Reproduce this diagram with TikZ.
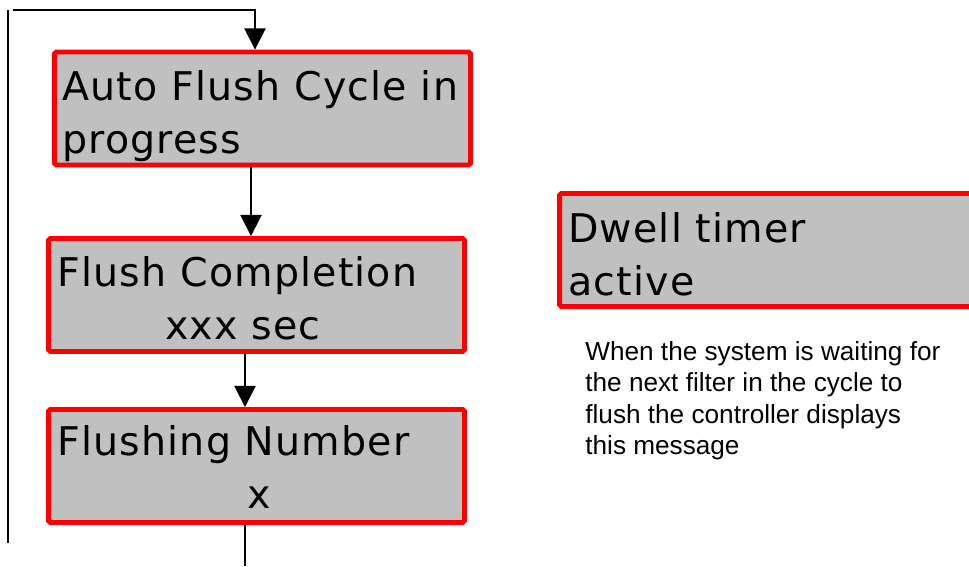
\documentclass[tikz,border=0pt]{standalone}
\usepackage{fontspec}
\setmainfont{DejaVu Sans}
\newfontfamily\boxfont[LetterSpace=3]{DejaVu Sans}
\newfontfamily\notefont{Liberation Sans}
\usetikzlibrary{arrows.meta}
\definecolor{msggray}{HTML}{C0C0C0}
\tikzset{>={Triangle[length=12pt,width=12pt]}}
\tikzset{
    msgbox/.style={draw=red, fill=msggray, line width=2.8pt, rounded corners=1pt,
        minimum width=8.32cm, minimum height=2.26cm, inner sep=0pt},
    msgtext/.style={anchor=base west, inner sep=0pt, font=\boxfont\fontsize{22.5}{28}\selectfont},
    flow/.style={line width=1pt},
}

\begin{document}
\begin{tikzpicture}[x=0.02cm, y=-0.02cm]
	\useasboundingbox (0,0) rectangle (969,566);
	\clip (0,0) rectangle (969,566);
	% display screens
	\node[msgbox] (autoflush) at (262.5,108.5) {};
	\node[msgbox] (completion) at (256.5,295) {};
	\node[msgbox] (number) at (256.5,466) {};
	\node[msgbox, minimum width=8.81cm] (dwell) at (779.75,250) {};
	\node[msgtext] (autoflush l1) at (62,100) {Auto Flush Cycle in};
	\node[msgtext] (autoflush l2) at (62,153) {progress};
	\node[msgtext] (completion l1) at (57,286) {Flush Completion};
	\node[msgtext] (completion l2) at (165,339) {xxx sec};
	\node[msgtext] (number l1) at (57,455) {Flushing Number};
	\node[msgtext] (number l2) at (247,508) {x};
	\node[msgtext] (dwell l1) at (568,242) {Dwell timer};
	\node[msgtext] (dwell l2) at (568,295) {active};
	\node[anchor=north west, inner sep=0pt, align=left, font=\notefont\fontsize{14.9}{17.95}\selectfont] (dwellnote) at (585,341)
		{When the system is waiting for\\the next filter in the cycle to\\flush the controller displays\\this message};
	% loop back and flow
	\coordinate (return top) at (8,10);
	\coordinate (return bottom) at (8,543);
	\coordinate (feed) at (13,10);
	\coordinate (exit) at (245,566);
	\draw[flow] (return top) -- (return bottom);
	\draw[flow, ->] (feed) -- (255,10) -- (255,0 |- autoflush.north);
	\draw[flow, ->] (251,0 |- autoflush.south) -- (251,0 |- completion.north);
	\draw[flow, ->] (245,0 |- completion.south) -- (245,0 |- number.north);
	\draw[flow] (245,0 |- number.south) -- (exit);
\end{tikzpicture}
\end{document}
